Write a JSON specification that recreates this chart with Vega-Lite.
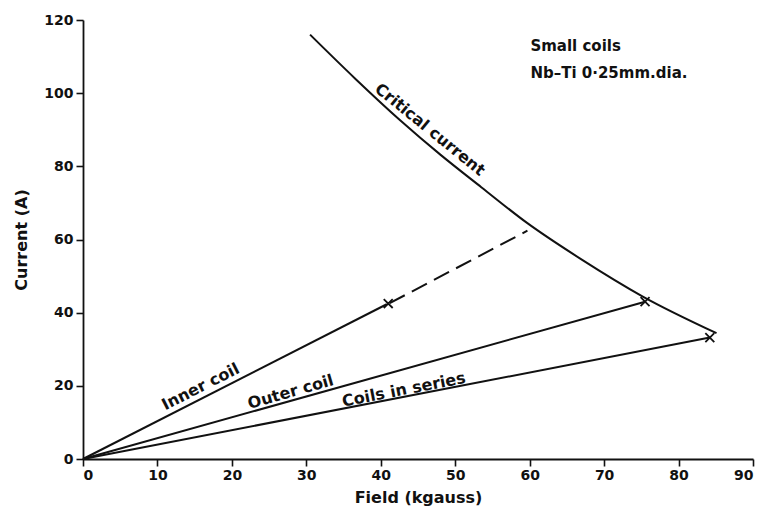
{
  "$schema": "https://vega.github.io/schema/vega-lite/v6.json",
  "autosize": "none",
  "padding": {"left": 83, "top": 20, "right": 13, "bottom": 54},
  "width": 670,
  "height": 439,
  "background": "white",
  "config": {
    "view": {"stroke": null},
    "font": "DejaVu Sans",
    "axis": {
      "domainColor": "#111",
      "domainWidth": 1.8,
      "tickColor": "#111",
      "tickWidth": 1.6,
      "tickSize": 7,
      "grid": false,
      "labelFont": "DejaVu Sans",
      "labelFontSize": 14,
      "labelFontWeight": "bold",
      "labelColor": "#111",
      "titleFont": "DejaVu Sans",
      "titleFontSize": 16,
      "titleFontWeight": "bold",
      "titleColor": "#111"
    }
  },
  "datasets": {
    "lines": [
      {"series": "Inner coil", "field": 0, "current": 0},
      {"series": "Inner coil", "field": 40.8, "current": 42.3},
      {"series": "Outer coil", "field": 0, "current": 0},
      {"series": "Outer coil", "field": 75.5, "current": 43.0},
      {"series": "Coils in series", "field": 0, "current": 0},
      {"series": "Coils in series", "field": 84.2, "current": 33.2},
      {"series": "Inner extrapolated", "field": 41.2, "current": 42.6},
      {"series": "Inner extrapolated", "field": 59.7, "current": 62.4},
      {"series": "Critical current", "field": 30.5, "current": 116.0},
      {"series": "Critical current", "field": 36.5, "current": 104.1},
      {"series": "Critical current", "field": 42.6, "current": 92.6},
      {"series": "Critical current", "field": 48.0, "current": 83.2},
      {"series": "Critical current", "field": 53.5, "current": 74.3},
      {"series": "Critical current", "field": 59.6, "current": 64.6},
      {"series": "Critical current", "field": 67.0, "current": 54.5},
      {"series": "Critical current", "field": 75.2, "current": 44.4},
      {"series": "Critical current", "field": 85.1, "current": 34.4}
    ],
    "quench": [
      {"series": "Inner coil", "field": 41.0, "current": 42.5},
      {"series": "Outer coil", "field": 75.5, "current": 43.0},
      {"series": "Coils in series", "field": 84.2, "current": 33.2}
    ]
  },
  "layer": [
    {
      "data": {"name": "lines"},
      "transform": [{"filter": "datum.series != 'Inner extrapolated'"}],
      "mark": {"type": "line", "color": "#111", "strokeWidth": 2, "interpolate": "monotone"},
      "encoding": {
        "x": {"field": "field", "type": "quantitative", "scale": {"domain": [0, 90], "nice": false},
              "axis": {"values": [0,10,20,30,40,50,60,70,80,90], "title": "Field (kgauss)", "labelPadding": 2, "titlePadding": 7}},
        "y": {"field": "current", "type": "quantitative", "scale": {"domain": [0, 120], "nice": false},
              "axis": {"values": [0,20,40,60,80,100,120], "title": "Current (A)", "labelPadding": 3, "titlePadding": 14}},
        "detail": {"field": "series", "type": "nominal"}
      }
    },
    {
      "data": {"name": "lines"},
      "transform": [{"filter": "datum.series == 'Inner extrapolated'"}],
      "mark": {"type": "line", "color": "#111", "strokeWidth": 2, "strokeDash": [17, 8]},
      "encoding": {
        "x": {"field": "field", "type": "quantitative"},
        "y": {"field": "current", "type": "quantitative"}
      }
    },
    {
      "data": {"name": "quench"},
      "mark": {"type": "point", "shape": "M-1,-1L1,1M-1,1L1,-1", "size": 80, "stroke": "#111", "strokeWidth": 1.8, "filled": false, "opacity": 1},
      "encoding": {
        "x": {"field": "field", "type": "quantitative"},
        "y": {"field": "current", "type": "quantitative"}
      }
    },
    {
      "data": {"values": [{"label": "Inner coil", "field": 15.8, "current": 19.7}]},
      "mark": {"type": "text", "angle": 333, "fontSize": 16, "fontWeight": "bold", "color": "#111", "baseline": "middle", "align": "center"},
      "encoding": {"x": {"field": "field", "type": "quantitative"}, "y": {"field": "current", "type": "quantitative"}, "text": {"field": "label"}}
    },
    {
      "data": {"values": [{"label": "Outer coil", "field": 27.9, "current": 18.3}]},
      "mark": {"type": "text", "angle": 344, "fontSize": 16, "fontWeight": "bold", "color": "#111", "baseline": "middle", "align": "center"},
      "encoding": {"x": {"field": "field", "type": "quantitative"}, "y": {"field": "current", "type": "quantitative"}, "text": {"field": "label"}}
    },
    {
      "data": {"values": [{"label": "Coils in series", "field": 43.1, "current": 18.9}]},
      "mark": {"type": "text", "angle": 349, "fontSize": 16, "fontWeight": "bold", "color": "#111", "baseline": "middle", "align": "center"},
      "encoding": {"x": {"field": "field", "type": "quantitative"}, "y": {"field": "current", "type": "quantitative"}, "text": {"field": "label"}}
    },
    {
      "data": {"values": [{"label": "Critical current", "field": 46.6, "current": 90.0}]},
      "mark": {"type": "text", "angle": 39, "fontSize": 16, "fontWeight": "bold", "color": "#111", "baseline": "middle", "align": "center"},
      "encoding": {"x": {"field": "field", "type": "quantitative"}, "y": {"field": "current", "type": "quantitative"}, "text": {"field": "label"}}
    },
    {
      "data": {"values": [
        {"label": "Small coils", "field": 60.1, "current": 112.9},
        {"label": "Nb\u2013Ti  0\u00b725mm.dia.", "field": 60.1, "current": 105.5}
      ]},
      "mark": {"type": "text", "fontSize": 15, "fontWeight": "bold", "color": "#111", "baseline": "middle", "align": "left"},
      "encoding": {"x": {"field": "field", "type": "quantitative"}, "y": {"field": "current", "type": "quantitative"}, "text": {"field": "label"}}
    }
  ]
}
